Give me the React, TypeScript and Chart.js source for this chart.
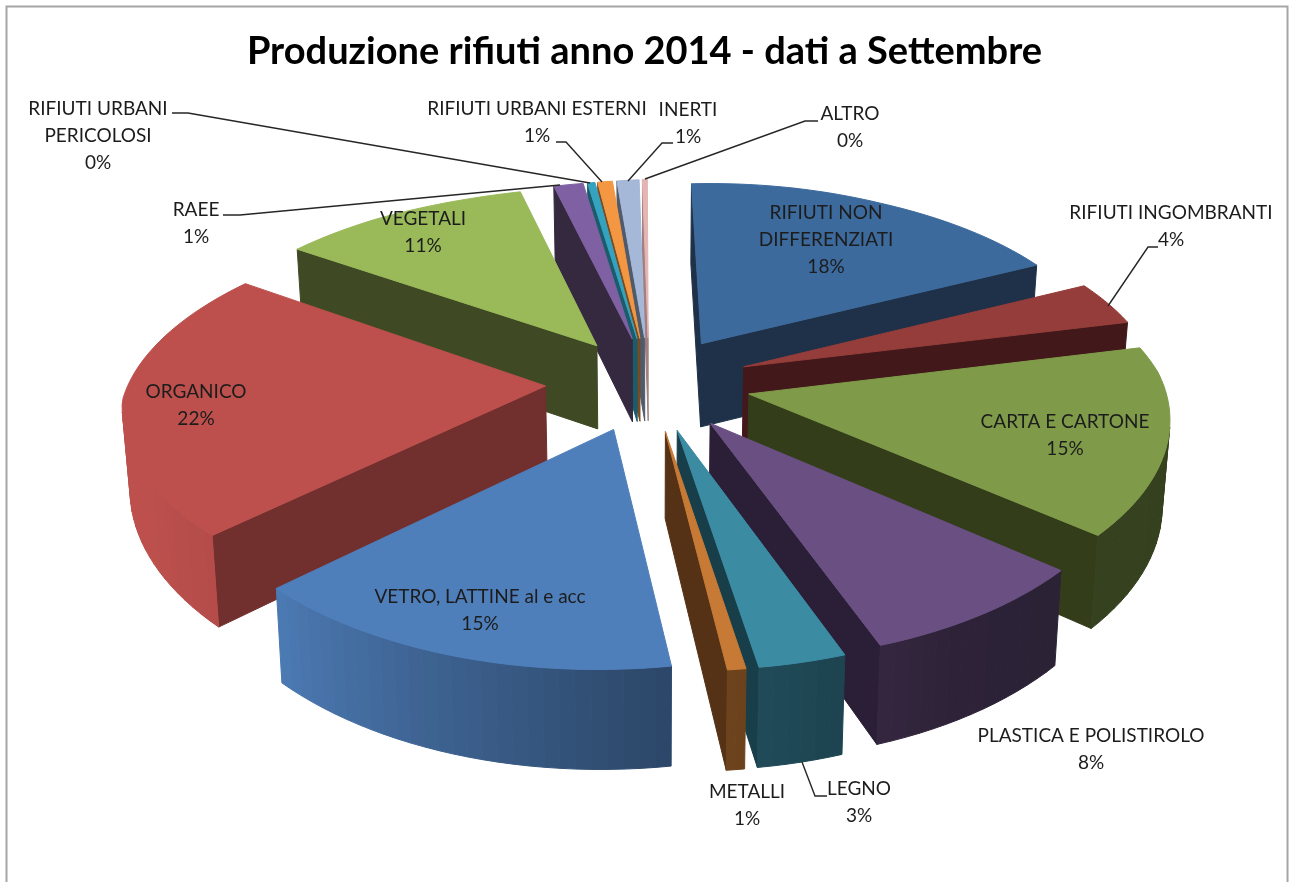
import React, { useEffect, useRef } from "react";
import { Chart, registerables } from "chart.js";
Chart.register(...registerables);

const TITLE = "Produzione rifiuti anno 2014 - dati a Settembre";
const categories = [
  "RIFIUTI NON DIFFERENZIATI", "RIFIUTI INGOMBRANTI", "CARTA E CARTONE", "PLASTICA E POLISTIROLO",
  "LEGNO", "METALLI", "VETRO, LATTINE al e acc", "ORGANICO", "VEGETALI", "RAEE",
  "RIFIUTI URBANI PERICOLOSI", "RIFIUTI URBANI ESTERNI", "INERTI", "ALTRO",
];
const values = [18.2, 3.6, 15.1, 8.3, 3.1, 0.65, 15.25, 22.0, 10.6, 1.2, 0.3, 0.6, 0.9, 0.2];
const topColors = ["#3d6a9c", "#953d3a", "#7f9b49", "#6a5082", "#3b8ba3", "#c77a35", "#4f7fbb", "#bd504d", "#9aba59", "#7f60a3", "#35a3c0", "#f39743", "#a6b8d8", "#e3b5b3"];
const wallColors = ["#1e3148", "#42181a", "#333d1a", "#2a1f36", "#183e4a", "#553115", "#2a4362", "#712f2d", "#3f4a24", "#352940", "#1b5c6c", "#7a4a20", "#4f5a6c", "#a08080"];

// label layout: line texts, centre x, centre y of the first line, line step
const labelLines = [
  ["RIFIUTI NON", "DIFFERENZIATI", "18%"], ["RIFIUTI INGOMBRANTI", "4%"], ["CARTA E CARTONE", "15%"],
  ["PLASTICA E POLISTIROLO", "8%"], ["LEGNO", "3%"], ["METALLI", "1%"], ["VETRO, LATTINE al e acc", "15%"],
  ["ORGANICO", "22%"], ["VEGETALI", "11%"], ["RAEE", "1%"], ["RIFIUTI URBANI", "PERICOLOSI", "0%"],
  ["RIFIUTI URBANI ESTERNI", "1%"], ["INERTI", "1%"], ["ALTRO", "0%"],
];
const labelX = [826, 1171, 1065, 1091, 859, 747, 480, 196, 423, 196, 98, 537, 688, 850];
const labelY = [213, 213, 422, 736, 789, 792, 597, 392, 219, 210, 109, 109, 110, 114];
const leaders = [
  [[172, 113], [188, 113], [590, 183]],
  [[223, 215], [240, 215], [560, 185]],
  [[556, 142], [566, 142], [602, 182]],
  [[673, 143], [662, 143], [628, 181]],
  [[818, 121], [805, 121], [645, 179]],
  [[1158, 247], [1148, 247], [1108, 306]],
  [[827, 796], [815, 796], [802, 762]],
];

// projection settings of the tilted pie
const CX = 649, CY = 383, R = 417, EXPLODE = 102, TILT = 0.462, PERSP = 0.000314, DEPTH = 84, CONVERGE = 0.985;

const project = (u: number, v: number, low: boolean) => {
  const w = 1 / (1 - PERSP * v);
  const wx = v > 0 ? 1 + 0.6 * (w - 1) : w;
  const sh = v > 0 ? 0.074 : 0.04 * Math.min(1, 0.05 + Math.abs(u) / 300);
  const us = u < 0 ? u * 1.015 : u * 0.99;
  let x = CX + us * wx + sh * v;
  let y = CY + TILT * v * w - (u > 0 ? 0.02 : 0.035) * u;
  y += v > 0 ? 0.004 * v + (u < 0 ? 0.00005 * -u * v : 0) : -0.005 * v;
  if (low) {
    y += DEPTH * (v > 0 ? w : 1 + 0.4 * (w - 1));
    x = CX + (x - CX) * CONVERGE;
  }
  return { x, y };
};
const side = (a: any, b: any, c: any) => (b.x - a.x) * (c.y - a.y) - (b.y - a.y) * (c.x - a.x);
const shade = (hex: string, k: number) => {
  const n = parseInt(hex.slice(1), 16);
  return `rgb(${Math.round(((n >> 16) & 255) * k)},${Math.round(((n >> 8) & 255) * k)},${Math.round((n & 255) * k)})`;
};
const rimLight = (deg: number) => {
  const stops = [[0, 0.41], [150, 0.42], [176, 0.55], [230, 0.95], [250, 1], [360, 1]];
  for (let i = 1; i < stops.length; i++) {
    if (deg <= stops[i][0]) {
      const t = (deg - stops[i - 1][0]) / (stops[i][0] - stops[i - 1][0]);
      return stops[i - 1][1] + t * (stops[i][1] - stops[i - 1][1]);
    }
  }
  return 1;
};

const poly = (ctx: CanvasRenderingContext2D, pts: any[], color: string) => {
  ctx.beginPath();
  pts.forEach((p, i) => (i ? ctx.lineTo(p.x, p.y) : ctx.moveTo(p.x, p.y)));
  ctx.closePath();
  ctx.fillStyle = color;
  ctx.strokeStyle = color;
  ctx.lineWidth = 1;
  ctx.fill();
  ctx.stroke();
};

const pie3d = {
  id: "pie3d",
  beforeDraw(chart: any) {
    const ctx = chart.ctx;
    ctx.save();
    ctx.fillStyle = "#ffffff";
    ctx.fillRect(0, 0, chart.width, chart.height);
    ctx.strokeStyle = "#a6a6a6";
    ctx.lineWidth = 2;
    ctx.strokeRect(6.5, 6.5, 1281, 890);
    ctx.restore();
  },
  beforeDatasetsDraw(chart: any) {
    const ctx: CanvasRenderingContext2D = chart.ctx;
    const arcs = chart.getDatasetMeta(0).data.map((a: any, i: number) => {
      const t1 = a.startAngle + Math.PI / 2;
      const t2 = a.endAngle + Math.PI / 2;
      const mid = (t1 + t2) / 2;
      return { i, t1, t2, ax: EXPLODE * Math.sin(mid), ay: -EXPLODE * Math.cos(mid), order: -Math.cos(mid) };
    });
    arcs.sort((p: any, q: any) => p.order - q.order);
    ctx.save();
    for (const s of arcs) {
      const rimU = (t: number) => s.ax + R * Math.sin(t);
      const rimV = (t: number) => s.ay - R * Math.cos(t);
      const A = project(s.ax, s.ay, false);
      const Ab = project(s.ax, s.ay, true);
      const steps = Math.max(2, Math.ceil(((s.t2 - s.t1) * 180) / Math.PI / 2));
      const top: any[] = [];
      const bot: any[] = [];
      for (let k = 0; k <= steps; k++) {
        const t = s.t1 + ((s.t2 - s.t1) * k) / steps;
        top.push(project(rimU(t), rimV(t), false));
        bot.push(project(rimU(t), rimV(t), true));
      }
      const M = top[Math.floor(steps / 2)];
      if (side(A, top[0], Ab) * side(A, top[0], M) < 0) poly(ctx, [A, top[0], bot[0], Ab], wallColors[s.i]);
      if (side(A, top[steps], Ab) * side(A, top[steps], M) < 0) poly(ctx, [A, top[steps], bot[steps], Ab], wallColors[s.i]);
      for (let k = 0; k < steps; k++) {
        if (side(top[k], top[k + 1], bot[k]) * side(top[k], top[k + 1], A) < 0) {
          const deg = ((s.t1 + ((s.t2 - s.t1) * (k + 0.5)) / steps) * 180) / Math.PI;
          poly(ctx, [top[k], top[k + 1], bot[k + 1], bot[k]], shade(topColors[s.i], rimLight(deg)));
        }
      }
      poly(ctx, [A, ...top], topColors[s.i]);
    }

    ctx.strokeStyle = "#262626";
    ctx.lineWidth = 1.4;
    for (const l of leaders) {
      ctx.beginPath();
      l.forEach((p, i) => (i ? ctx.lineTo(p[0], p[1]) : ctx.moveTo(p[0], p[1])));
      ctx.stroke();
    }
    ctx.fillStyle = "#1c1c1c";
    ctx.font = "19px Lato";
    ctx.textAlign = "center";
    ctx.textBaseline = "middle";
    labelLines.forEach((lines, i) => {
      lines.forEach((t, j) => ctx.fillText(t, labelX[i], labelY[i] + j * 27));
    });
    ctx.restore();
    return false;
  },
};

export default function App() {
  const ref = useRef<HTMLCanvasElement>(null);
  useEffect(() => {
    const chart = new Chart(ref.current as HTMLCanvasElement, {
      type: "pie",
      data: { labels: categories, datasets: [{ data: values, backgroundColor: topColors }] },
      options: {
        animation: false,
        responsive: false,
        events: [],
        layout: { padding: { top: 29 } },
        plugins: {
          legend: { display: false },
          tooltip: { enabled: false },
          title: {
            display: true,
            text: TITLE,
            color: "#000000",
            font: { family: "Lato", size: 38, weight: "bold" },
            padding: { top: 0, bottom: 0 },
          },
        },
      },
      plugins: [pie3d],
    } as any);
    return () => chart.destroy();
  }, []);
  return (
    <div style={{ position: "absolute", left: 0, top: 0, width: 1289, height: 882 }}>
      <canvas ref={ref} width={1289} height={882} style={{ display: "block" }} />
    </div>
  );
}
